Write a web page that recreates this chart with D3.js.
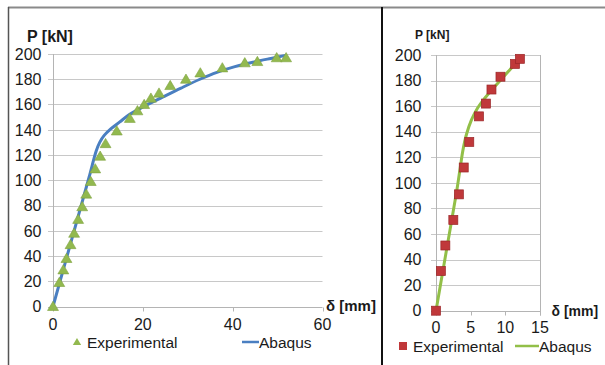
<!DOCTYPE html>
<html><head><meta charset="utf-8">
<script src="https://cdn.jsdelivr.net/npm/d3@7"></script>
<style>
html,body{margin:0;padding:0;background:#fff;}
svg{display:block;font-family:"Liberation Sans",Arial,sans-serif;}
</style></head>
<body>
<svg id="c" width="605" height="365"></svg>
<script>
// ---- Data: left chart ----
const leftExpX = [0, 1.4, 2.3, 3.0, 3.9, 4.7, 5.6, 6.5, 7.4, 8.4, 9.4, 10.5, 11.7, 14.2, 17.1, 18.8, 20.3, 21.8, 23.6, 26.1, 29.6, 32.8, 37.7, 42.7, 45.5, 49.8, 51.9];
const leftExpY = [0, 19, 29, 38, 49, 58, 69, 79, 89, 99, 109, 119, 129, 139, 149, 155, 160, 165, 169, 175, 180, 185, 189, 193, 194, 197, 197];
const leftAbqX = [0, 4, 8, 9.6, 10.4, 11.4, 12.8, 14.8, 17, 20, 24.5, 28.5, 32.7, 36.5, 40.5, 44.5, 48.5, 52];
const leftAbqY = [0, 51, 102, 123, 130, 135.5, 140.5, 146, 152, 158, 166, 173, 180, 185.5, 190, 193.5, 196.5, 199];
const leftXTicks = [0, 20, 40, 60];
const leftYTicks = [0, 20, 40, 60, 80, 100, 120, 140, 160, 180, 200];

// ---- Data: right chart ----
const rightExpX = [0, 0.7, 1.35, 2.5, 3.3, 4.0, 4.8, 6.2, 7.2, 8.0, 9.3, 11.4, 12.1];
const rightExpY = [0, 31, 51, 71, 91, 112, 132, 152, 162, 173, 183, 193, 197];
const rightAbqX = [0, 1.5, 3, 3.5, 3.9, 4.4, 5.1, 6, 7, 8, 9, 10.5, 12.3];
const rightAbqY = [0, 47, 94, 112, 126, 138, 149, 158.5, 166, 172.5, 178.5, 187.5, 198.5];
const rightXTicks = [0, 5, 10, 15];
const rightYTicks = [0, 20, 40, 60, 80, 100, 120, 140, 160, 180, 200];

const seriesNames = ["Experimental", "Abaqus"];

const svg = d3.select("#c");
const gridCol = "#c8c8c8", axisCol = "#b4b4b4", textCol = "#1a1a1a";

// frame
svg.append("line").attr("x1",8).attr("x2",605).attr("y1",7.5).attr("y2",7.5).attr("stroke","#8a8a8a").attr("stroke-width",2);
svg.append("line").attr("x1",8.5).attr("x2",8.5).attr("y1",7).attr("y2",365).attr("stroke","#555").attr("stroke-width",1.5);
svg.append("line").attr("x1",382).attr("x2",382).attr("y1",7).attr("y2",365).attr("stroke","#111").attr("stroke-width",2);

function triPath(s){ return `M0,${-0.5*s} L${0.52*s},${0.38*s} L${-0.52*s},${0.38*s} Z`; }

function drawChart(o){
  const x = d3.scaleLinear().domain(o.xDom).range(o.xRange);
  const y = d3.scaleLinear().domain(o.yDom).range(o.yRange);
  const g = svg.append("g");
  // gridlines
  g.selectAll(".gy").data(o.yTicks.filter(d=>d>0)).join("line")
    .attr("x1", x.range()[0]-5).attr("x2", x.range()[1])
    .attr("y1", d=>Math.round(y(d))+0.5).attr("y2", d=>Math.round(y(d))+0.5)
    .attr("stroke", gridCol).attr("stroke-width",1);
  // axes
  const y0 = Math.round(y(0))+0.5;
  g.append("line").attr("x1",x.range()[0]-5).attr("x2",x.range()[1]).attr("y1",y0).attr("y2",y0).attr("stroke",axisCol);
  const xa = Math.round(x.range()[0])+0.5;
  g.append("line").attr("x1",xa).attr("x2",xa).attr("y1",y.range()[1]).attr("y2",y0+4).attr("stroke",axisCol);
  if (o.box){
    const xb = Math.round(x.range()[1])+0.5;
    g.append("line").attr("x1",xb).attr("x2",xb).attr("y1",y.range()[1]).attr("y2",y0+4).attr("stroke",axisCol);
  }
  g.selectAll(".tx").data(o.xTicks.filter(d=>d>0)).join("line")
    .attr("x1",d=>Math.round(x(d))+0.5).attr("x2",d=>Math.round(x(d))+0.5)
    .attr("y1",y0).attr("y2",y0+4).attr("stroke",axisCol);
  // tick labels
  g.selectAll(".ly").data(o.yTicks).join("text")
    .attr("x", o.yLabelX).attr("y", d=>y(d)).attr("dy","0.36em")
    .attr("text-anchor","end").attr("font-size",o.tickFont).attr("fill",textCol).text(d=>d);
  g.selectAll(".lx").data(o.xTicks).join("text")
    .attr("x", d=>x(d)).attr("y", o.xLabelY)
    .attr("text-anchor","middle").attr("font-size",o.tickFont).attr("fill",textCol).text(d=>d);
  // axis titles
  g.append("text").attr("x",o.pTitle[0]).attr("y",o.pTitle[1]).attr("font-size",o.pTitle[2]).attr("font-weight","bold").attr("fill",textCol).text("P [kN]");
  g.append("text").attr("x",o.dTitle[0]).attr("y",o.dTitle[1]).attr("font-size",o.dTitle[2]).attr("font-weight","bold").attr("fill",textCol).text("δ [mm]");
  // line
  const line = d3.line().x(d=>x(d[0])).y(d=>y(d[1])).curve(d3.curveCatmullRom.alpha(0.5));
  const abq = o.abqX.map((v,i)=>[v,o.abqY[i]]);
  g.append("path").datum(abq).attr("d",line).attr("fill","none").attr("stroke",o.lineCol).attr("stroke-width",3).attr("stroke-linejoin","round");
  // markers
  const exp = o.expX.map((v,i)=>[v,o.expY[i]]);
  if (o.marker==="tri"){
    g.selectAll(".m").data(exp).join("path").attr("d",triPath(10.5))
      .attr("transform",d=>`translate(${x(d[0])},${y(d[1])})`)
      .attr("fill","#92b94f").attr("stroke","#7fa33f").attr("stroke-width",0.6);
  } else {
    g.selectAll(".m").data(exp).join("rect")
      .attr("x",d=>x(d[0])-4.5).attr("y",d=>y(d[1])-4.5).attr("width",9).attr("height",9)
      .attr("fill","#c0383a").attr("stroke","#9a2628").attr("stroke-width",0.7);
  }
  // legend
  const L = o.legend;
  if (o.marker==="tri"){
    g.append("path").attr("d",triPath(8)).attr("transform",`translate(${L.mx},${L.my})`).attr("fill","#92b94f");
  } else {
    g.append("rect").attr("x",L.mx-4).attr("y",L.my-4).attr("width",8).attr("height",8).attr("fill","#c0383a");
  }
  g.append("text").attr("x",L.tx).attr("y",L.ty).attr("font-size",L.fs).attr("fill",textCol).text(seriesNames[0]);
  g.append("line").attr("x1",L.lx1).attr("x2",L.lx2).attr("y1",L.my).attr("y2",L.my).attr("stroke",o.lineCol).attr("stroke-width",2.5);
  g.append("text").attr("x",L.lx2).attr("y",L.ty).attr("font-size",L.fs).attr("fill",textCol).text(seriesNames[1]);
}

drawChart({
  xDom:[0,60], xRange:[53,322.5], yDom:[0,200], yRange:[306.5,54],
  xTicks:leftXTicks, yTicks:leftYTicks, yLabelX:41.5, xLabelY:330, tickFont:"16px",
  pTitle:[27,42,"16px"], dTitle:[326,311,"15px"],
  abqX:leftAbqX, abqY:leftAbqY, expX:leftExpX, expY:leftExpY,
  lineCol:"#4a7fc1", marker:"tri", box:false,
  legend:{mx:77,my:342,tx:87,ty:347.5,fs:"15.5px",lx1:242,lx2:259}
});
drawChart({
  xDom:[0,15], xRange:[436,540], yDom:[0,200], yRange:[310.7,55],
  xTicks:rightXTicks, yTicks:rightYTicks, yLabelX:421.5, xLabelY:333, tickFont:"16px",
  pTitle:[415,39,"12px"], dTitle:[551.5,316,"14px"],
  abqX:rightAbqX, abqY:rightAbqY, expX:rightExpX, expY:rightExpY,
  lineCol:"#92bf48", marker:"sq", box:true,
  legend:{mx:403,my:346,tx:413,ty:351.5,fs:"15.5px",lx1:515,lx2:539}
});
</script>
</body></html>
